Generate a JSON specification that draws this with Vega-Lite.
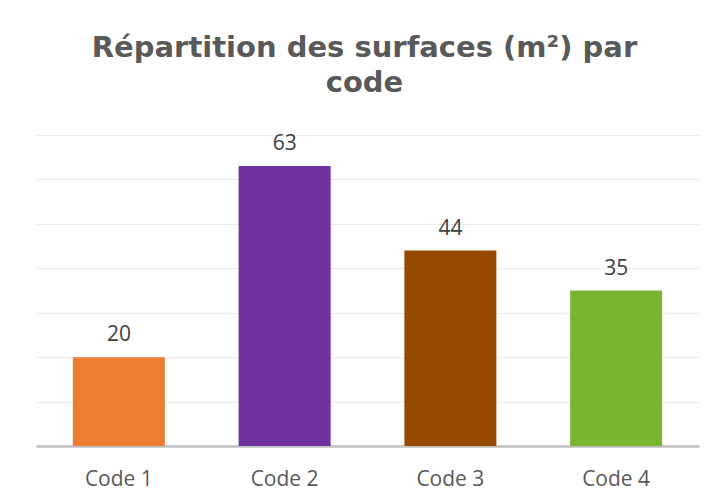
{
  "$schema": "https://vega.github.io/schema/vega-lite/v6.json",
  "width": 663,
  "height": 311,
  "autosize": {"type": "none"},
  "padding": {"left": 36, "top": 135, "right": 15, "bottom": 58},
  "background": "white",
  "title": {
    "text": ["Répartition des surfaces (m²) par", "code"],
    "font": "DejaVu Sans",
    "fontSize": 29,
    "fontWeight": "bold",
    "color": "#595959",
    "lineHeight": 35,
    "anchor": "middle",
    "baseline": "alphabetic",
    "offset": 12,
    "dx": -3
  },
  "data": {
    "values": [
      {"code": "Code 1", "surface": 20},
      {"code": "Code 2", "surface": 63},
      {"code": "Code 3", "surface": 44},
      {"code": "Code 4", "surface": 35}
    ]
  },
  "encoding": {
    "x": {
      "field": "code",
      "type": "nominal",
      "sort": null,
      "scale": {"paddingInner": 0.445, "paddingOuter": 0.2225},
      "axis": {
        "title": null,
        "labelAngle": 0,
        "labelFont": "Open Sans",
        "labelFontSize": 21,
        "labelColor": "#595959",
        "labelPadding": 22,
        "ticks": false,
        "domainColor": "#bfbfbf",
        "domainWidth": 2.5
      }
    },
    "y": {
      "field": "surface",
      "type": "quantitative",
      "scale": {"domain": [0, 70]},
      "axis": {
        "title": null,
        "labels": false,
        "ticks": false,
        "domain": false,
        "values": [0, 10, 20, 30, 40, 50, 60, 70],
        "gridColor": "#ececec",
        "gridWidth": 1.2
      }
    }
  },
  "layer": [
    {
      "mark": {"type": "bar"},
      "encoding": {
        "color": {
          "field": "code",
          "type": "nominal",
          "legend": null,
          "scale": {
            "domain": ["Code 1", "Code 2", "Code 3", "Code 4"],
            "range": ["#ED7D31", "#7030A0", "#954A00", "#78B531"]
          }
        }
      }
    },
    {
      "mark": {
        "type": "text",
        "baseline": "bottom",
        "dy": -12,
        "font": "Open Sans",
        "fontSize": 21,
        "color": "#404040"
      },
      "encoding": {
        "text": {"field": "surface", "type": "quantitative"}
      }
    }
  ],
  "config": {"view": {"stroke": null}, "axis": {"labelOverlap": false}}
}
